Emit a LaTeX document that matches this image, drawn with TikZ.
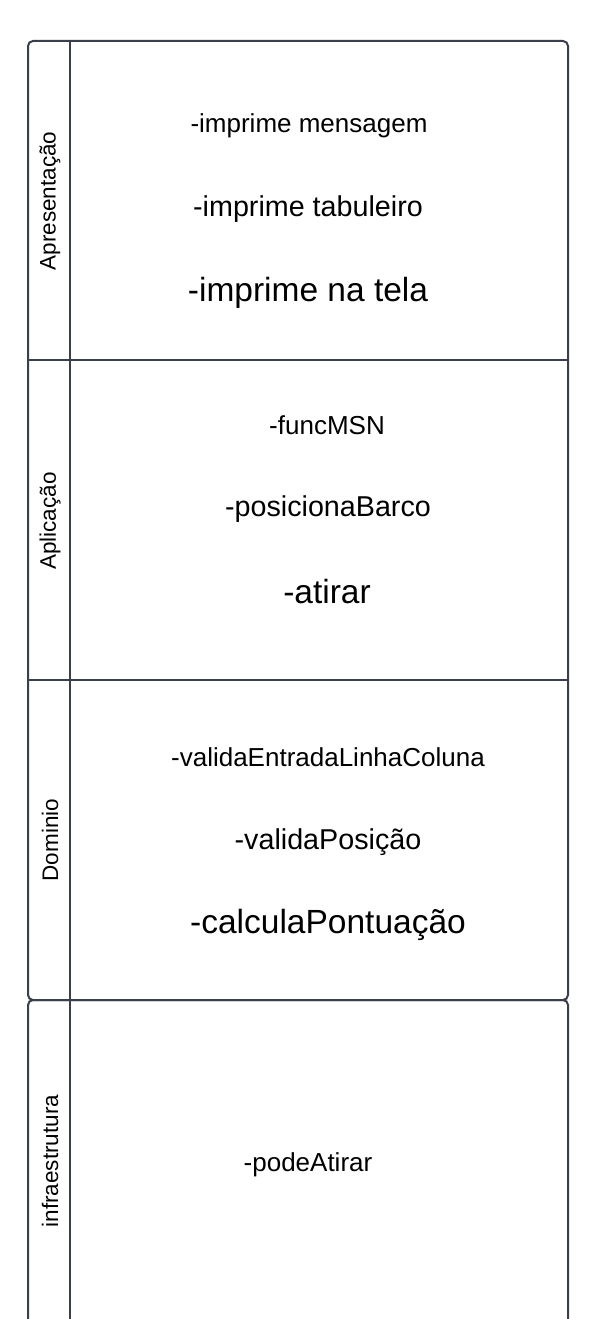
\documentclass[tikz,border=0pt]{standalone}
\usepackage{fontspec}
\setmainfont{Liberation Sans}
\begin{document}
\begin{tikzpicture}[x=1pt,y=-1pt,
  frame/.style={draw=lanegray,line width=2pt,rounded corners=5pt},
  sep/.style={draw=lanegray,line width=2pt},
  small/.style={font=\fontsize{26}{30}\selectfont,inner sep=0pt},
  mid/.style={font=\fontsize{28.7}{32}\selectfont,inner sep=0pt},
  big/.style={font=\fontsize{33.5}{38}\selectfont,inner sep=0pt},
  lanelbl/.style={font=\fontsize{22.5}{26}\selectfont,rotate=90,inner sep=0pt}]
\definecolor{lanegray}{HTML}{3A3F4B}
\useasboundingbox (0,0) rectangle (608,1319);
\fill[white] (0,0) rectangle (608,1319);
\clip (0,0) rectangle (608,1319);
% pool 1
\draw[frame] (28,41) rectangle (568,1000);
\draw[sep] (70,41) -- (70,1000);
\draw[sep] (28,360) -- (568,360);
\draw[sep] (28,680) -- (568,680);
% pool 2
\draw[frame] (28,1000) rectangle (568,1330);
\draw[sep] (70,1000) -- (70,1330);
% lane labels
\node[lanelbl] (l1) at (50,201) {Apresentação};
\node[lanelbl] (l2) at (50,521) {Aplicação};
\node[lanelbl] (l3) at (50,840) {Dominio};
\node[lanelbl] (l4) at (50,1161) {infraestrutura};
% lane 1
\node[small] (a1) at (309,126) {-imprime mensagem};
\node[mid]   (a2) at (308,209) {-imprime tabuleiro};
\node[big]   (a3) at (308,293) {-imprime na tela};
% lane 2
\node[small] (b1) at (327,425) {-funcMSN};
\node[mid]   (b2) at (328,509) {-posicionaBarco};
\node[big]   (b3) at (327,592) {-atirar};
% lane 3
\node[small] (c1) at (328,757) {-validaEntradaLinhaColuna};
\node[mid]   (c2) at (328,842) {-validaPosição};
\node[big]   (c3) at (328,925) {-calculaPontuação};
% lane 4
\node[small] (d1) at (308,1165) {-podeAtirar};
\end{tikzpicture}
\end{document}
